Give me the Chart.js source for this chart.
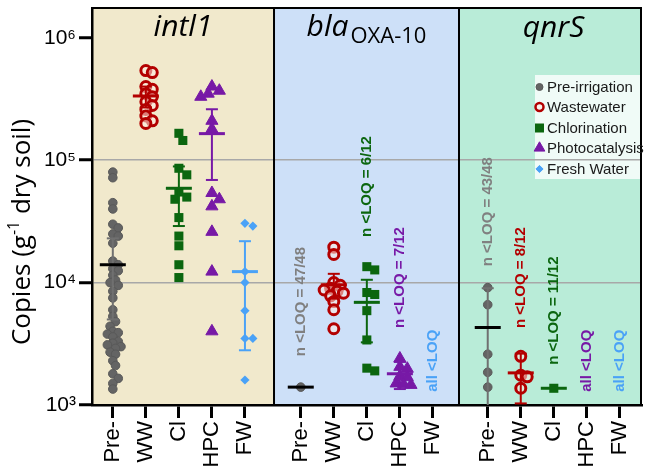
<!DOCTYPE html>
<html><head><meta charset="utf-8">
<script src="https://cdn.jsdelivr.net/npm/chart.js@4.4.1/dist/chart.umd.min.js"></script>
<style>html,body{margin:0;padding:0;background:#fff}#wrap{width:650px;height:475px}</style>
</head><body><div id="wrap"><canvas id="c" width="650" height="475"></canvas></div>
<script>
// ---------- DATA ----------
const genes = ['intl1', 'bla', 'qnrS'];
const groups = ['Pre-', 'WW', 'Cl', 'HPC', 'FW'];
const seriesNames = ['Pre-irrigation', 'Wastewater', 'Chlorination', 'Photocatalysis', 'Fresh Water'];
const yTickValues = [1e3, 1e4, 1e5, 1e6];
const yTickLabels = ['10³', '10⁴', '10⁵', '10⁶'];

const intl1Pre = [80000,72000,45000,40000,30000,28000,25000,24000,21000,15000,14000,13000,12500,11500,10500,10000,9500,8500,7500,6000,5300,4800,4400,4000,3900,3800,3600,3300,3200,3000,3100,2900,2700,2600,2300,2100,1800,1650,1500,1350];
const intl1WW = [540000,520000,400000,380000,350000,330000,300000,280000,260000,230000,210000,200000];
const intl1Cl = [166000,145000,86000,76000,55000,50000,48000,34000,24000,20000,14000,11000];
const intl1HPC = [400000,370000,350000,330000,210000,180000,54000,48000,42000,26000,12300,4000];
const intl1FW = [30500,29000,12300,10000,5900,3500,3500,1600];

const blaPre = [1400];
const blaWW = [19500,17000,10000,9500,9000,8700,8500,8200,7800,7000,6000,4200];
const blaCl = [13500,12700,8300,8000,5900,3400,2000,1900];
const blaHPC = [2400,2050,1980,1720,1690,1500,1480,1460];
const blaFW = [];

const qnrPre = [9100,6600,2600,1850,1400];
const qnrWW = [2500,1750,1700,1370];
const qnrCl = [1370];
const qnrHPC = [];
const qnrFW = [];

// mean and error half-width (linear) per group
const intl1Mean = [14000, 335000, 59000, 165000, 12300];
const intl1Err  = [9000, 65000, 30000, 96000, 9500];
const blaMean = [1400, 9600, 6900, 1800, null];
const blaErr  = [0, 2200, 3650, 450, null];
const qnrMean = [4300, 1830, 1370, null, null];
const qnrErr  = [4700, 800, 0, null, null];

// below-LOQ notes
const intl1Notes = [null, null, null, null, null];
const blaNotes = ['n <LOQ = 47/48', null, 'n <LOQ = 6/12', 'n <LOQ = 7/12', 'all <LOQ'];
const qnrNotes = ['n <LOQ = 43/48', 'n <LOQ = 8/12', 'n <LOQ = 11/12', 'all <LOQ', 'all <LOQ'];

// ---------- LAYOUT / STYLE ----------
const noteY = [[0,0,0,0,0],[7000,0,61000,11000,2300],[38000,11000,5900,2300,2300]];
const PANEL_START = [0, 5.69, 11.35];
const X_MIN = -0.63, X_MAX = 16.02;
const PANEL_EDGES = [-0.63, 4.88, 10.48, 16.02];
const PANEL_COLORS = ['#f1e9cc', '#cde0f8', '#b9ecd8'];
const Y_MIN = 1000, Y_MAX = Math.pow(10, 6.244);
const AREA = {left: 92, top: 2, right: 648, bottom: 405};
const PX_PER_UNIT = (AREA.right - AREA.left) / (X_MAX - X_MIN);
const PX_PER_DEC = (AREA.bottom - AREA.top) / (Math.log10(Y_MAX) - 3);
const COLORS = ['#646464', '#b30000', '#0b660f', '#7719a6', '#4aa2f7'];
const styles = [
  {pointStyle:'circle', radius:4.3, bg:'#646464', border:'#595959', bw:1, sp:5.5},
  {pointStyle:'circle', radius:5, bg:'rgba(255,235,225,0.55)', border:'#b30000', bw:3, sp:6.5},
  {pointStyle:'rect', radius:6.4, bg:'#0b660f', border:'#0b660f', bw:0, sp:8},
  {pointStyle:'triangle', radius:7, bg:'#7719a6', border:'#7719a6', bw:1, sp:7.5},
  {pointStyle:'rectRot', radius:4.6, bg:'#4aa2f7', border:'#4aa2f7', bw:0, sp:8}
];

const seriesData = [
  [intl1Pre, blaPre, qnrPre],
  [intl1WW, blaWW, qnrWW],
  [intl1Cl, blaCl, qnrCl],
  [intl1HPC, blaHPC, qnrHPC],
  [intl1FW, blaFW, qnrFW]
];
const means = [intl1Mean, blaMean, qnrMean];
const errs = [intl1Err, blaErr, qnrErr];
const notes = [intl1Notes, blaNotes, qnrNotes];

function swarm(values, diam) {
  const idx = values.map((v, i) => i).sort((a, b) => values[b] - values[a]);
  const placed = [];
  const offs = new Array(values.length).fill(0);
  for (const i of idx) {
    const y = Math.log10(values[i]) * PX_PER_DEC;
    let best = 0;
    for (let k = 0; k < 60; k++) {
      const cand = k === 0 ? 0 : (k % 2 ? 1 : -1) * Math.ceil(k / 2) * diam * 0.5;
      let ok = true;
      for (const p of placed) {
        const dx = cand - p.x, dy = y - p.y;
        if (dx * dx + dy * dy < diam * diam) { ok = false; break; }
      }
      if (ok) { best = cand; break; }
    }
    offs[i] = best;
    placed.push({x: best, y});
  }
  return offs;
}

const datasets = seriesNames.map((name, s) => {
  const data = [];
  for (let g = 0; g < 3; g++) {
    const vals = seriesData[s][g];
    const offs = swarm(vals, styles[s].sp);
    vals.forEach((v, i) => data.push({x: PANEL_START[g] + s + offs[i] / PX_PER_UNIT, y: v}));
  }
  const st = styles[s];
  return {label: name, data, pointStyle: st.pointStyle, pointRadius: st.radius, pointHoverRadius: st.radius,
    backgroundColor: st.bg, borderColor: st.border, pointBorderWidth: st.bw, showLine: false};
});

const tickPositions = [];
const tickNames = [];
for (let g = 0; g < 3; g++) for (let i = 0; i < 5; i++) { tickPositions.push(PANEL_START[g] + i); tickNames.push(groups[i]); }

const deco = {
  id: 'deco',
  beforeDraw(chart) {
    const {ctx, chartArea: a, scales: {x}} = chart;
    ctx.save();
    ctx.fillStyle = '#fff';
    ctx.fillRect(0, 0, chart.width, chart.height);
    for (let p = 0; p < 3; p++) {
      const x0 = x.getPixelForValue(PANEL_EDGES[p]), x1 = x.getPixelForValue(PANEL_EDGES[p + 1]);
      ctx.fillStyle = PANEL_COLORS[p];
      ctx.fillRect(x0, a.top, x1 - x0, a.bottom - a.top);
    }
    // legend box
    ctx.fillStyle = 'rgba(255,255,255,0.78)';
    ctx.fillRect(535, 75, 112, 104);
    ctx.restore();
  },
  afterDatasetsDraw(chart) {
    const {ctx, chartArea: a, scales: {x, y}} = chart;
    ctx.save();
    ctx.beginPath(); ctx.rect(a.left, a.top, a.right - a.left, a.bottom - a.top); ctx.clip();
    for (let g = 0; g < 3; g++) {
      for (let i = 0; i < 5; i++) {
        const m = means[g][i];
        if (m == null) continue;
        const e = errs[g][i];
        const cx = x.getPixelForValue(PANEL_START[g] + i);
        const col = i === 0 ? '#707070' : COLORS[i];
        ctx.strokeStyle = col;
        ctx.lineWidth = 2;
        if (e > 0) {
          const yt = y.getPixelForValue(m + e);
          const lowVal = m - e;
          const yb = lowVal > Y_MIN ? y.getPixelForValue(lowVal) : a.bottom + 5;
          ctx.beginPath(); ctx.moveTo(cx, yt); ctx.lineTo(cx, yb); ctx.stroke();
          ctx.beginPath(); ctx.moveTo(cx - 6, yt); ctx.lineTo(cx + 6, yt); ctx.stroke();
          if (lowVal > Y_MIN) { ctx.beginPath(); ctx.moveTo(cx - 6, yb); ctx.lineTo(cx + 6, yb); ctx.stroke(); }
        }
        const ym = y.getPixelForValue(m);
        ctx.strokeStyle = i === 0 ? '#000' : COLORS[i];
        ctx.lineWidth = 3;
        ctx.beginPath(); ctx.moveTo(cx - 13, ym); ctx.lineTo(cx + 13, ym); ctx.stroke();
      }
    }
    ctx.restore();
  },
  afterDraw(chart) {
    const {ctx, chartArea: a, scales: {x, y}} = chart;
    ctx.save();
    // panel borders
    ctx.strokeStyle = '#000';
    ctx.lineWidth = 2;
    ctx.beginPath();
    ctx.moveTo(a.left, a.top); ctx.lineTo(a.right, a.top);
    for (let p = 1; p < 4; p++) {
      const xp = Math.min(x.getPixelForValue(PANEL_EDGES[p]), a.right - 1);
      ctx.moveTo(xp, a.top); ctx.lineTo(xp, a.bottom);
    }
    ctx.stroke();
    // panel titles
    ctx.fillStyle = '#000';
    ctx.textBaseline = 'alphabetic';
    const c1 = (x.getPixelForValue(PANEL_EDGES[0]) + x.getPixelForValue(PANEL_EDGES[1])) / 2;
    const c2 = (x.getPixelForValue(PANEL_EDGES[1]) + x.getPixelForValue(PANEL_EDGES[2])) / 2;
    const c3 = (x.getPixelForValue(PANEL_EDGES[2]) + x.getPixelForValue(PANEL_EDGES[3])) / 2;
    ctx.textAlign = 'center';
    ctx.font = 'italic 30px "Open Sans"';
    ctx.fillText(genes[0], c1, 36);
    ctx.fillText(genes[2], c3 + 3, 37);
    // bla OXA-10
    ctx.textAlign = 'left';
    const w1 = ctx.measureText(genes[1]).width;
    ctx.font = '22px "Open Sans"';
    const w2 = ctx.measureText('OXA-10').width;
    const sx = c2 - (w1 + w2 + 2) / 2;
    ctx.font = 'italic 30px "Open Sans"';
    ctx.fillText(genes[1], sx, 36);
    ctx.font = '22px "Open Sans"';
    ctx.fillText('OXA-10', sx + w1 + 2, 43);
    // LOQ notes
    ctx.font = 'bold 15px "Liberation Sans"';
    ctx.textAlign = 'center';
    ctx.textBaseline = 'middle';
    for (let g = 0; g < 3; g++) for (let i = 0; i < 5; i++) {
      const t = notes[g][i];
      if (!t) continue;
      ctx.fillStyle = i === 0 ? '#808080' : COLORS[i];
      const px = x.getPixelForValue(PANEL_START[g] + i), py = y.getPixelForValue(noteY[g][i]);
      ctx.save(); ctx.translate(px, py); ctx.rotate(-Math.PI / 2); ctx.fillText(t, 0, 0); ctx.restore();
    }
    // legend items
    const rows = [87, 107, 128, 148, 169];
    const legR = [3.5, 4, 4.6, 6.2, 3.6];
    ctx.textAlign = 'left';
    ctx.font = '15px "Liberation Sans"';
    for (let s = 0; s < 5; s++) {
      const st = styles[s];
      ctx.fillStyle = st.bg; ctx.strokeStyle = st.border; ctx.lineWidth = s === 1 ? 2.5 : st.bw;
      Chart.helpers.drawPoint(ctx, {pointStyle: st.pointStyle, radius: legR[s], borderWidth: ctx.lineWidth, rotation: 0}, 539.5, rows[s]);
      ctx.fillStyle = '#1a1a1a';
      ctx.fillText(seriesNames[s], 547, rows[s] + 1);
    }
    // y title
    ctx.save();
    ctx.translate(23, 232);
    ctx.rotate(-Math.PI / 2);
    ctx.fillStyle = '#000';
    ctx.textBaseline = 'middle';
    const pA = 'Copies (g', pC = ' dry soil)';
    ctx.font = '16px "Open Sans"';
    const wB = ctx.measureText('-1').width;
    ctx.font = '26px "Open Sans"';
    const wA = ctx.measureText(pA).width, wC = ctx.measureText(pC).width;
    const tot = wA + wB + wC;
    let tx = -tot / 2;
    ctx.textAlign = 'left';
    ctx.fillText(pA, tx, 0); tx += wA;
    ctx.font = '16px "Open Sans"';
    ctx.fillText('-1', tx, -9); tx += wB;
    ctx.font = '26px "Open Sans"';
    ctx.fillText(pC, tx, 0);
    ctx.restore();
    ctx.restore();
  }
};

new Chart(document.getElementById('c'), {
  type: 'scatter',
  data: {datasets},
  options: {
    responsive: false, animation: false, devicePixelRatio: 1,
    layout: {padding: {top: AREA.top, right: 650 - AREA.right, left: 0, bottom: 0}},
    plugins: {legend: {display: false}, tooltip: {enabled: false}},
    scales: {
      x: {
        type: 'linear', min: X_MIN, max: X_MAX,
        afterBuildTicks(sc) { sc.ticks = tickPositions.map(v => ({value: v})); },
        afterFit(sc) { sc.height = 475 - AREA.bottom; sc.paddingLeft = 0; sc.paddingRight = 0; },
        ticks: {autoSkip: false, minRotation: 90, maxRotation: 90, padding: 3, color: '#000',
          font: {family: '"Liberation Sans"', size: 22},
          callback: (v, i) => tickNames[i]},
        grid: {drawOnChartArea: false, drawTicks: true, tickLength: 13, tickWidth: 3, tickColor: '#000'},
        border: {display: true, color: '#000', width: 2.5}
      },
      y: {
        type: 'logarithmic', min: Y_MIN, max: Y_MAX,
        afterBuildTicks(sc) { sc.ticks = yTickValues.map(v => ({value: v})); },
        afterFit(sc) { sc.width = AREA.left; sc.paddingTop = 0; sc.paddingBottom = 0; },
        ticks: {padding: 3, color: '#000', font: {family: '"Liberation Sans"', size: 21},
          callback: (v) => yTickLabels[yTickValues.indexOf(v)]},
        grid: {
          color: (c) => (c.tick && (c.tick.value === 1e4 || c.tick.value === 1e5)) ? '#a8a8a8' : 'rgba(0,0,0,0)',
          lineWidth: 1.5, drawTicks: true, tickLength: 13, tickWidth: 3, tickColor: '#000'
        },
        border: {display: true, color: '#000', width: 2.5}
      }
    }
  },
  plugins: [deco]
});
</script></body></html>
